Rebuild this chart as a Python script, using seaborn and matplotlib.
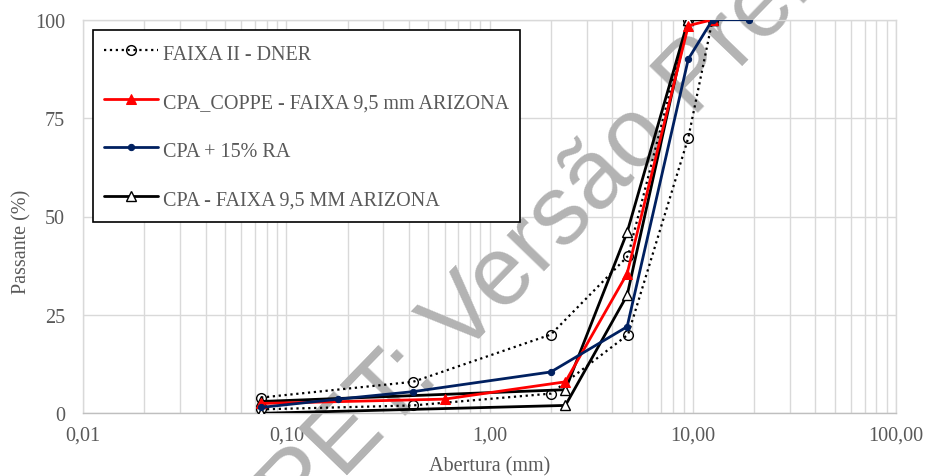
import seaborn as sns
import matplotlib.pyplot as plt
from matplotlib.ticker import FixedLocator, LogLocator, NullFormatter

# Abertura das peneiras (mm) e % passante
dner_x = [0.075, 0.42, 2.0, 4.8, 9.5, 12.5]
dner_sup = [4, 8, 20, 40, 100, 100]
dner_inf = [1, 2, 5, 20, 70, 100]

coppe_x = [0.075, 0.6, 2.36, 4.75, 9.5, 12.5]
coppe_y = [2.5, 3.6, 8, 35.5, 98.5, 100]

ra_x = [0.075, 0.18, 0.42, 2.0, 4.75, 9.5, 12.5, 19.0]
ra_y = [1.5, 3.6, 5.5, 10.5, 22, 90, 100, 100]

az_x = [0.075, 2.36, 4.75, 9.5, 12.5]
az_sup = [3, 6, 46, 100, 100]
az_inf = [0, 2, 30, 100, 100]

labels = ["FAIXA II - DNER", "CPA_COPPE - FAIXA 9,5 mm ARIZONA",
          "CPA + 15% RA", "CPA - FAIXA 9,5 MM ARIZONA"]
xticks = [0.01, 0.1, 1, 10, 100]
xticklabels = ["0,01", "0,10", "1,00", "10,00", "100,00"]
yticks = [0, 25, 50, 75, 100]

sns.set_style("white")
plt.rcParams['font.family'] = ['Liberation Serif', 'DejaVu Serif']
txt = '#595959'
grid = '#d9d9d9'
fs = 14.5

fig = plt.figure(figsize=(9.27, 4.77), dpi=100)
ax = fig.add_axes([83.3 / 927, 1 - 414.3 / 477, 812.7 / 927, 393.6 / 477])

# DNER limites (pontilhado)
sns.lineplot(x=dner_x, y=dner_sup, ax=ax, color='black', linestyle=':', lw=1.6,
             marker='o', markersize=7, markerfacecolor='none',
             markeredgecolor='black', markeredgewidth=1, label=labels[0], zorder=3)
sns.lineplot(x=dner_x, y=dner_inf, ax=ax, color='black', linestyle=':', lw=1.6,
             marker='o', markersize=7, markerfacecolor='none',
             markeredgecolor='black', markeredgewidth=1, label='_nolegend_', zorder=3)
# CPA_COPPE
sns.lineplot(x=coppe_x, y=coppe_y, ax=ax, color='#ff0000', lw=2,
             marker='^', markersize=6.5, markeredgecolor='#ff0000',
             label=labels[1], zorder=4)
# CPA + 15% RA
sns.lineplot(x=ra_x, y=ra_y, ax=ax, color='#002060', lw=2,
             marker='o', markersize=4.5, markeredgecolor='#002060',
             label=labels[2], zorder=4)
# Faixa Arizona
sns.lineplot(x=az_x, y=az_sup, ax=ax, color='black', lw=2,
             marker='^', markersize=6.5, markerfacecolor='white',
             markeredgecolor='black', markeredgewidth=1, label=labels[3], zorder=3)
sns.lineplot(x=az_x, y=az_inf, ax=ax, color='black', lw=2,
             marker='^', markersize=6.5, markerfacecolor='white',
             markeredgecolor='black', markeredgewidth=1, label='_nolegend_', zorder=3)

ax.set_xscale('log')
ax.set_xlim(0.01, 100)
ax.set_ylim(0, 100)
ax.xaxis.set_major_locator(FixedLocator(xticks))
ax.xaxis.set_minor_locator(LogLocator(base=10, subs=range(2, 10)))
ax.xaxis.set_minor_formatter(NullFormatter())
ax.set_xticklabels(xticklabels)
ax.set_yticks(yticks)
ax.set_axisbelow(True)
ax.grid(which='both', axis='x', color=grid, lw=1)
ax.grid(which='major', axis='y', color=grid, lw=1)
ax.tick_params(which='both', length=0, labelsize=fs, labelcolor=txt)
ax.tick_params(axis='x', pad=9)
ax.tick_params(axis='y', pad=13)
for s in ax.spines.values():
    s.set_color(grid)
    s.set_linewidth(1)
ax.spines['bottom'].set_color('#bfbfbf')

ax.set_xlabel("Abertura (mm)", fontsize=fs, color=txt)
ax.set_ylabel("Passante (%)", fontsize=fs, color=txt)
ax.xaxis.set_label_coords(0.5, -0.110)
ax.yaxis.set_label_coords(-0.064, 0.438)

leg = ax.legend(loc='upper left', bbox_to_anchor=(0.0116, 0.974), borderaxespad=0,
                fontsize=fs, frameon=True, fancybox=False, framealpha=1,
                edgecolor='black', handlelength=2.64, handletextpad=0.25,
                handleheight=1.3, labelspacing=1.28, borderpad=0.58)
leg.get_frame().set_linewidth(1.2)
for t in leg.get_texts():
    t.set_color(txt)
leg.set_zorder(6)

# marca d'agua
ax.text(296 / 927, 1 - 528 / 477, "PET: Versão Preliminar", transform=fig.transFigure,
        rotation=46, rotation_mode='anchor', ha='left', va='baseline',
        fontsize=71, color='#b3b3b3', family='Liberation Sans', zorder=2,
        clip_on=False)

fig.savefig("out.png", dpi=100)
